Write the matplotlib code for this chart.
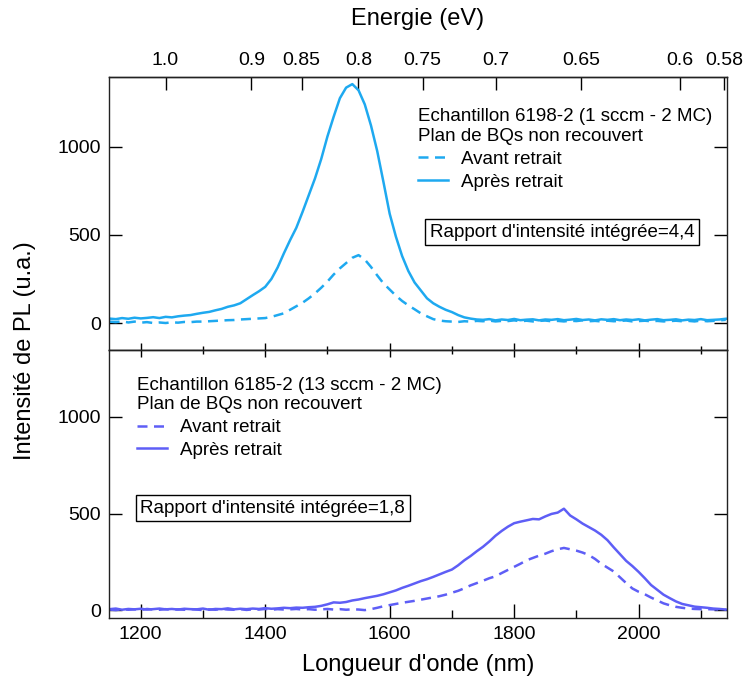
import numpy as np
import matplotlib
matplotlib.use("Agg")
import matplotlib.pyplot as plt
from matplotlib.lines import Line2D
from matplotlib.ticker import MultipleLocator, NullLocator

plt.rcParams.update({
    "font.family": ["Liberation Sans", "DejaVu Sans"],
    "axes.linewidth": 1.0,
    "axes.edgecolor": "#222222",
})

# longueur d'onde (nm), pas de 10 nm
wavelength = np.arange(1150, 2141, 10)

# échantillon 6198-2 (panneau du haut)
apres_6198 = [
    25, 22, 28, 24, 30, 26, 29, 33, 28, 35,
    32, 38, 42, 45, 52, 58, 63, 72, 80, 92,
    100, 112, 135, 158, 180, 205, 250, 315, 395, 470,
    540, 630, 725, 820, 930, 1058, 1170, 1275, 1335, 1355,
    1320, 1240, 1120, 975, 800, 620, 490, 380, 295, 230,
    185, 140, 112, 92, 75, 62, 45, 32, 25, 20,
    18, 22, 15, 20, 17, 23, 16, 19, 21, 15,
    20, 18, 22, 16, 19, 23, 17, 20, 15, 21,
    18, 22, 16, 20, 17, 21, 15, 19, 22, 16,
    18, 21, 15, 19, 17, 22, 16, 18, 20, 24,
]
avant_6198 = [
    8, 5, 10, 3, 8, 2, 5, 0, 3, 0,
    4, 2, 6, 5, 8, 8, 10, 12, 14, 16,
    17, 20, 22, 24, 26, 28, 35, 45, 55, 75,
    95, 115, 140, 168, 200, 235, 275, 310, 340, 370,
    385, 360, 318, 270, 225, 190, 155, 125, 100, 78,
    55, 38, 22, 14, 10, 8, 6, 10, 8, 12,
    10, 14, 9, 12, 11, 15, 10, 13, 9, 12,
    14, 10, 12, 9, 13, 11, 15, 10, 12, 9,
    13, 10, 12, 14, 9, 11, 13, 10, 12, 9,
    11, 13, 10, 12, 9, 14, 10, 12, 15, 18,
]

# échantillon 6185-2 (panneau du bas)
apres_6185 = [
    5, 8, 2, 6, 4, 7, 3, 5, 8, 4,
    6, 3, 7, 5, 4, 8, 2, 6, 5, 9,
    4, 7, 5, 8, 6, 10, 7, 9, 12, 10,
    13, 12, 15, 17, 22, 30, 40, 38, 42, 50,
    55, 62, 68, 74, 82, 92, 102, 115, 126, 138,
    150, 160, 172, 185, 198, 210, 232, 258, 280, 305,
    328, 355, 385, 410, 432, 450, 458, 465, 472, 470,
    485, 498, 505, 525, 490, 470, 448, 430, 412, 390,
    362, 325, 290, 255, 228, 198, 165, 130, 105, 80,
    62, 45, 32, 25, 18, 15, 12, 8, 6, 3,
]
avant_6185 = [
    3, 0, 5, 2, 4, 1, 6, 3, 2, 5,
    1, 4, 2, 5, 3, 0, 4, 2, 6, 3,
    2, 5, 1, 4, 3, 6, 2, 5, 3, 4,
    6, 3, 5, 2, 4, 6, 3, 5, 2, 4,
    3, 0, 5, 12, 20, 26, 32, 38, 43, 48,
    54, 60, 66, 72, 80, 90, 100, 113, 128, 140,
    152, 165, 175, 192, 208, 224, 240, 258, 270, 282,
    292, 305, 315, 322, 315, 308, 298, 285, 265, 240,
    220, 200, 170, 140, 112, 95, 82, 65, 50, 35,
    25, 17, 12, 8, 6, 5, 5, 4, 3, 2,
]

energy_ticks = [1.0, 0.9, 0.85, 0.8, 0.75, 0.7, 0.65, 0.6, 0.58]
energy_labels = ["1.0", "0.9", "0.85", "0.8", "0.75", "0.7", "0.65", "0.6", "0.58"]
y_ticks = [0, 500, 1000]

HC = 1239.84
c_top = "#1EA9F0"
c_bot = "#5E5EF6"
LW = 1.8
dash = (0, (4.0, 2.6))
FS_TICK = 14
FS_LAB = 17
FS_TXT = 13.5


def nm2ev(x):
    x = np.asarray(x, dtype=float)
    with np.errstate(divide="ignore", invalid="ignore"):
        return HC / x


fig = plt.figure(figsize=(7.47, 6.88), dpi=100)
ax1 = fig.add_axes([0.1459, 0.4913, 0.8273, 0.3967])
ax2 = fig.add_axes([0.1459, 0.1017, 0.8273, 0.3896], sharex=ax1)

ax1.plot(wavelength, avant_6198, color=c_top, lw=LW, ls=dash)
ax1.plot(wavelength, apres_6198, color=c_top, lw=LW)
ax2.plot(wavelength, avant_6185, color=c_bot, lw=LW, ls=dash)
ax2.plot(wavelength, apres_6185, color=c_bot, lw=LW)

ax1.set_xlim(1149, 2142)
ax1.set_ylim(-153, 1395)
ax2.set_ylim(-41, 1347)

for ax in (ax1, ax2):
    ax.set_yticks(y_ticks)
    ax.tick_params(axis="y", which="major", direction="in", length=9.5, width=1,
                   left=True, right=True, labelright=False, labelsize=FS_TICK, pad=6)
    ax.xaxis.set_major_locator(MultipleLocator(200))
    ax.xaxis.set_minor_locator(MultipleLocator(100))

ax1.tick_params(axis="x", which="major", direction="in", length=5, width=1,
                top=False, labelbottom=False)
ax1.tick_params(axis="x", which="minor", direction="in", length=3, width=1, top=False)
ax2.tick_params(axis="x", which="major", direction="in", length=10, width=1,
                top=False, labelsize=FS_TICK, pad=6)
ax2.tick_params(axis="x", which="minor", direction="in", length=5.5, width=1, top=False)

# petites graduations en haut du panneau du bas
sec2 = ax2.secondary_xaxis("top")
sec2.xaxis.set_major_locator(MultipleLocator(200))
sec2.xaxis.set_minor_locator(MultipleLocator(100))
sec2.tick_params(axis="x", which="major", direction="in", length=5, width=1, labeltop=False)
sec2.tick_params(axis="x", which="minor", direction="in", length=3, width=1)

# axe des énergies
sec1 = ax1.secondary_xaxis("top", functions=(nm2ev, nm2ev))
sec1.set_xticks(energy_ticks, labels=energy_labels)
sec1.xaxis.set_minor_locator(NullLocator())
sec1.tick_params(axis="x", which="major", direction="in", length=9.5, width=1,
                 labelsize=FS_TICK, pad=6)
sec1.set_xlabel("Energie (eV)", fontsize=FS_LAB, labelpad=19)

ax2.set_xlabel("Longueur d'onde (nm)", fontsize=FS_LAB, labelpad=8)
fig.text(0.034, 0.491, "Intensité de PL (u.a.)", rotation=90, fontsize=FS_LAB,
         ha="center", va="center")


def legend_for(ax, color, title, anchor):
    handles = [
        Line2D([0], [0], color=color, lw=LW, ls=dash),
        Line2D([0], [0], color=color, lw=LW),
    ]
    leg = ax.legend(handles, ["Avant retrait", "Après retrait"], title=title,
                    alignment="left", frameon=False, loc="upper left",
                    bbox_to_anchor=anchor, fontsize=FS_TXT, title_fontsize=FS_TXT,
                    handlelength=1.6, handletextpad=0.7, labelspacing=0.3,
                    borderpad=0, borderaxespad=0)
    return leg


legend_for(ax1, c_top, "Echantillon 6198-2 (1 sccm - 2 MC)\nPlan de BQs non recouvert",
           (0.50, 0.885))
legend_for(ax2, c_bot, "Echantillon 6185-2 (13 sccm - 2 MC)\nPlan de BQs non recouvert",
           (0.045, 0.90))

box = dict(boxstyle="square,pad=0.25", facecolor="white", edgecolor="black", linewidth=1)
ax1.text(0.733, 0.432, "Rapport d'intensité intégrée=4,4", transform=ax1.transAxes,
         fontsize=FS_TXT, ha="center", va="center", bbox=box)
ax2.text(0.265, 0.410, "Rapport d'intensité intégrée=1,8", transform=ax2.transAxes,
         fontsize=FS_TXT, ha="center", va="center", bbox=box)

fig.savefig("out.png", dpi=100, facecolor="white")
